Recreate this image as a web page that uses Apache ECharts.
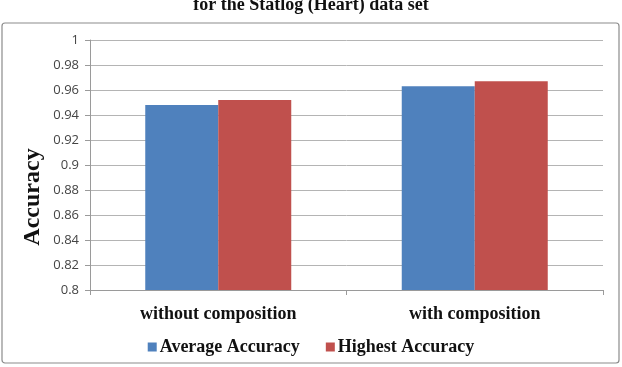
<!DOCTYPE html>
<html>
<head>
<meta charset="utf-8">
<script src="https://cdn.jsdelivr.net/npm/echarts@6/dist/echarts.min.js"></script>
<style>
  html, body { margin: 0; padding: 0; background: #fff; }
  #chart { width: 622px; height: 367px; }
</style>
</head>
<body>
<div id="chart"></div>
<script>
// data
var categories = ['without composition', 'with composition'];
var averageAccuracy = [0.948, 0.963];
var highestAccuracy = [0.952, 0.967];
var yTicks = [0.8, 0.82, 0.84, 0.86, 0.88, 0.9, 0.92, 0.94, 0.96, 0.98, 1];

var serif = '"Liberation Serif", "Times New Roman", serif';

var myChart = echarts.init(document.getElementById('chart'));
myChart.setOption({
    animation: false,
    title: {
        text: 'for the Statlog (Heart) data set',
        left: 'center',
        top: -9,
        textStyle: { fontFamily: serif, fontWeight: 'bold', fontSize: 18, color: '#111' }
    },
    graphic: [
        {
            type: 'rect',
            shape: { x: 2, y: 23, width: 617, height: 340, r: 3 },
            style: { fill: 'none', stroke: '#8c8c8c', lineWidth: 1.2 },
            z: -1
        },
        {
            // y axis title, sits lower than the axis middle in the original
            type: 'text',
            x: 33,
            y: 197,
            rotation: Math.PI / 2,
            style: {
                text: 'Accuracy',
                font: 'bold 24px ' + serif,
                fill: '#111',
                align: 'center',
                verticalAlign: 'middle'
            }
        }
    ],
    grid: { left: 90, right: 19, top: 40, bottom: 77 },
    legend: {
        bottom: 6,
        left: 'center',
        itemWidth: 9,
        itemHeight: 9,
        itemGap: 26,
        icon: 'rect',
        textStyle: { fontFamily: serif, fontWeight: 'bold', fontSize: 18, color: '#111', padding: [0, 0, 0, -2] },
        data: ['Average Accuracy', 'Highest Accuracy']
    },
    xAxis: {
        type: 'category',
        data: categories,
        axisLine: { lineStyle: { color: '#9a9a9a' } },
        axisTick: { show: true, length: 5, lineStyle: { color: '#9a9a9a' } },
        axisLabel: { fontFamily: serif, fontWeight: 'bold', fontSize: 18, color: '#111', margin: 15 }
    },
    yAxis: {
        type: 'value',
        min: yTicks[0],
        max: yTicks[yTicks.length - 1],
        interval: 0.02,
        axisLine: { show: true, lineStyle: { color: '#9a9a9a' } },
        axisTick: { show: true, length: 5, lineStyle: { color: '#9a9a9a' } },
        axisLabel: {
            fontFamily: '"Open Sans", Lato, sans-serif',
            fontSize: 13,
            color: '#444',
            margin: 11,
            formatter: function (v) { return String(+v.toFixed(2)); }
        },
        splitLine: { lineStyle: { color: '#b4b4b4' } }
    },
    series: [
        {
            name: 'Average Accuracy',
            type: 'bar',
            data: averageAccuracy,
            barWidth: 73,
            barGap: '0%',
            itemStyle: { color: '#4F81BD' }
        },
        {
            name: 'Highest Accuracy',
            type: 'bar',
            data: highestAccuracy,
            barWidth: 73,
            itemStyle: { color: '#C0504D' }
        }
    ]
});
</script>
</body>
</html>
